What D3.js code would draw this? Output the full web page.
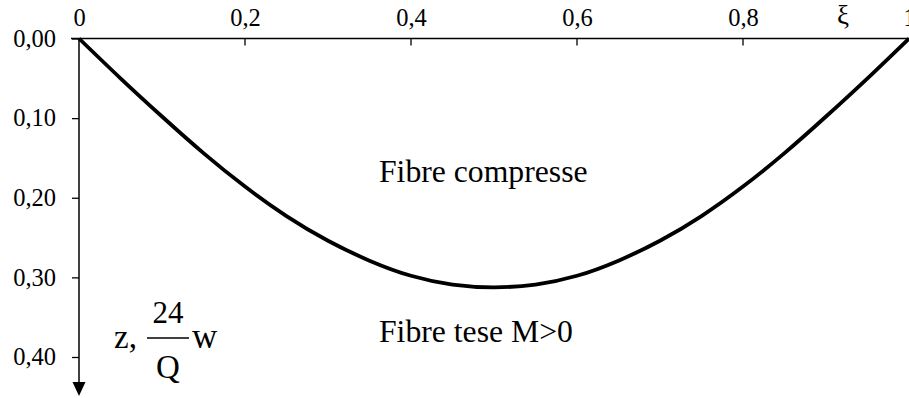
<!DOCTYPE html>
<html>
<head>
<meta charset="utf-8">
<script src="https://cdn.jsdelivr.net/npm/d3@7"></script>
<style>
  html, body { margin: 0; padding: 0; background: #fff; }
  svg { display: block; }
</style>
</head>
<body>
<svg id="chart" width="909" height="398"></svg>
<script>
// Deflection of a simply supported beam under uniform load, 24/Q·w versus ξ
const xi = [0, 0.05, 0.10, 0.15, 0.20, 0.25, 0.30, 0.35, 0.40, 0.45, 0.50,
            0.55, 0.60, 0.65, 0.70, 0.75, 0.80, 0.85, 0.90, 0.95, 1.00];
const deflection = [0, 0.050, 0.098, 0.144, 0.186, 0.223, 0.254, 0.279, 0.298, 0.309, 0.3125,
                    0.309, 0.298, 0.279, 0.254, 0.223, 0.186, 0.144, 0.098, 0.050, 0];
const xTicks = [0, 0.2, 0.4, 0.6, 0.8, 1];
const yTicks = [0, 0.1, 0.2, 0.3, 0.4];
const regionLabels = ["Fibre compresse", "Fibre tese M>0"];

const serif = "'Liberation Serif'";
const svg = d3.select("#chart");
const x = d3.scaleLinear().domain([0, 1]).range([79, 909]);
const y = d3.scaleLinear().domain([0, 0.4]).range([38.5, 357]);
const fmtX = v => v === 0 || v === 1 ? String(v) : d3.format(".1f")(v).replace(".", ",");
const fmtY = v => d3.format(".2f")(v).replace(".", ",");

function serifText(sel, size) {
  return sel.style("font-family", serif).style("font-size", size + "px").attr("fill", "#000");
}

// Top horizontal axis (ξ), ticks pointing down into the plot
const xAxis = svg.append("g")
  .attr("transform", `translate(0,${y(0)})`)
  .call(d3.axisTop(x).tickValues(xTicks).tickSize(0).tickPadding(13).tickFormat(fmtX));
xAxis.select(".domain").remove();
serifText(xAxis.selectAll("text"), 24.5);
svg.append("line")
  .attr("x1", 71).attr("x2", x(1)).attr("y1", y(0)).attr("y2", y(0))
  .attr("stroke", "#000").attr("stroke-width", 1.5);
svg.selectAll(".xtick").data(xTicks.filter(d => d > 0 && d < 1)).enter().append("line")
  .attr("x1", d => x(d)).attr("x2", d => x(d))
  .attr("y1", y(0)).attr("y2", y(0) + 7)
  .attr("stroke", "#000").attr("stroke-width", 1.3);

// Left vertical axis (z), pointing downward with an arrow head
const yAxis = svg.append("g")
  .attr("transform", `translate(${x(0)},0)`)
  .call(d3.axisLeft(y).tickValues(yTicks).tickSize(7).tickPadding(16).tickFormat(fmtY));
yAxis.select(".domain").remove();
yAxis.selectAll("line").attr("stroke-width", 1.3);
serifText(yAxis.selectAll("text"), 24.5);
svg.append("line")
  .attr("x1", x(0)).attr("x2", x(0)).attr("y1", y(0)).attr("y2", 384)
  .attr("stroke", "#000").attr("stroke-width", 1.5);
svg.append("path")
  .attr("d", `M${x(0) - 6.5},382 L${x(0) + 6.5},382 L${x(0)},396 Z`)
  .attr("fill", "#000");

// ξ label near the end of the horizontal axis
serifText(svg.append("text"), 27).attr("x", 843).attr("y", 24).attr("text-anchor", "middle").text("ξ");

// Deflection curve
const line = d3.line().x((d, i) => x(xi[i])).y(d => y(d)).curve(d3.curveNatural);
svg.append("path").datum(deflection)
  .attr("d", line)
  .attr("fill", "none").attr("stroke", "#000").attr("stroke-width", 3.8)
  .attr("stroke-linejoin", "round");

// Region labels
serifText(svg.append("text"), 31.7).attr("x", 379).attr("y", 182).text(regionLabels[0]);
serifText(svg.append("text"), 31.7).attr("x", 379).attr("y", 342).text(regionLabels[1]);

// Vertical axis label: z, 24/Q w
const lab = svg.append("g");
serifText(lab.append("text"), 33).attr("x", 114).attr("y", 348).text("z,");
serifText(lab.append("text"), 31).attr("x", 168).attr("y", 323).attr("text-anchor", "middle").text("24");
lab.append("line").attr("x1", 147).attr("x2", 189).attr("y1", 338).attr("y2", 338)
  .attr("stroke", "#000").attr("stroke-width", 1.5);
serifText(lab.append("text"), 33).attr("x", 168).attr("y", 378).attr("text-anchor", "middle").text("Q");
serifText(lab.append("text"), 35).attr("x", 192).attr("y", 348).text("w");
</script>
</body>
</html>
